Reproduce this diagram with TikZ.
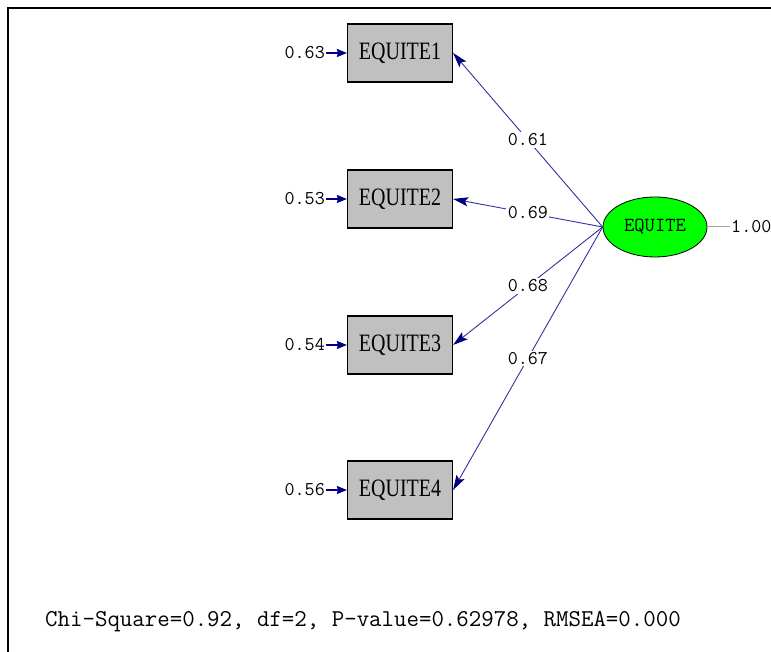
\documentclass[tikz,border=0pt]{standalone}
\usepackage{fontspec}
\setmainfont{Liberation Serif}
\newfontfamily\monofont{Latin Modern Mono}
\usetikzlibrary{arrows.meta,shapes.geometric}
\definecolor{pathblue}{RGB}{50,50,160}
\definecolor{headblue}{RGB}{0,0,128}
\definecolor{boxgray}{RGB}{192,192,192}
\definecolor{latgreen}{RGB}{0,255,0}
\tikzset{
  obsbox/.style={draw=black, line width=1.2pt, fill=boxgray, minimum width=105pt, minimum height=58pt, inner sep=0pt,
    font=\fontsize{25}{25}\selectfont},
  latent/.style={draw=black, line width=0.8pt, fill=latgreen, shape=ellipse, minimum width=104pt, minimum height=60pt, inner sep=0pt,
    font=\monofont\fontsize{20}{20}\selectfont},
  coef/.style={fill=white, inner sep=1.5pt, font=\monofont\fontsize{19.5}{19.5}\selectfont},
  errlab/.style={inner sep=1pt, font=\monofont\fontsize{19.5}{19.5}\selectfont},
  loading/.style={draw=pathblue, line width=0.9pt, -{Stealth[length=15pt,width=9pt,inset=3pt,color=headblue]}},
  errarrow/.style={draw=headblue, line width=1.6pt, -{Stealth[length=10pt,width=8pt,inset=1pt,color=headblue]}},
  frame/.style={draw=black, line width=1.5pt}
}
\begin{document}
\begin{tikzpicture}[x=1pt,y=1pt]
\useasboundingbox (0,0) rectangle (771,652);
\fill[white] (0,0) rectangle (771,652);
\coordinate (fa) at (8,0);
\coordinate (fb) at (8,644);
\coordinate (fc) at (771,644);
\draw[frame] (fa) -- (fb) -- (fc);

\node[obsbox] (b1) at (400,599) {\scalebox{0.8}[1]{EQUITE1}};
\node[obsbox] (b2) at (400,453) {\scalebox{0.8}[1]{EQUITE2}};
\node[obsbox] (b3) at (400,307) {\scalebox{0.8}[1]{EQUITE3}};
\node[obsbox] (b4) at (400,162) {\scalebox{0.8}[1]{EQUITE4}};

\node[latent] (L) at (655,425) {EQUITE};

\node[errlab, anchor=east] (e1) at (326,599) {0.63};
\node[errlab, anchor=east] (e2) at (326,453) {0.53};
\node[errlab, anchor=east] (e3) at (326,307) {0.54};
\node[errlab, anchor=east] (e4) at (326,162) {0.56};
\draw[errarrow] (e1) -- (b1);
\draw[errarrow] (e2) -- (b2);
\draw[errarrow] (e3) -- (b3);
\draw[errarrow] (e4) -- (b4);

\draw[loading] (L.west) -- node[coef] {0.61} (b1.east);
\draw[loading] (L.west) -- node[coef] {0.69} (b2.east);
\draw[loading] (L.west) -- node[coef] {0.68} (b3.east);
\draw[loading] (L.west) -- node[coef] {0.67} (b4.east);

\node[errlab, anchor=west] (v) at (730,425) {1.00};
\draw[draw=gray!70, line width=1pt] (L.east) -- (v.west);

\node[anchor=base west, inner sep=0pt, font=\monofont\fontsize{24.2}{24.2}\selectfont] (fit) at (45,25) {Chi-Square=0.92, df=2, P-value=0.62978, RMSEA=0.000};
\end{tikzpicture}
\end{document}
